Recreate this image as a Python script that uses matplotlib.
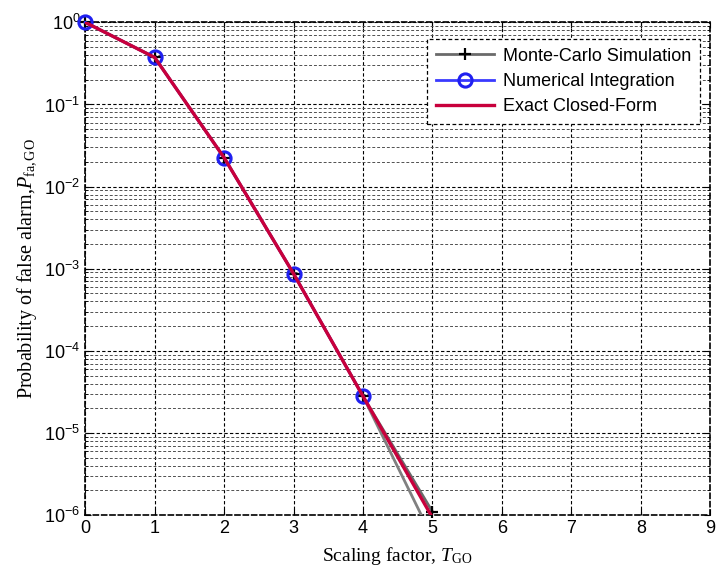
import matplotlib
matplotlib.use("Agg")
import matplotlib.pyplot as plt
from matplotlib.ticker import LogLocator, FixedLocator, NullFormatter

plt.rcParams['mathtext.fontset'] = 'custom'
plt.rcParams['mathtext.rm'] = 'Liberation Serif'
plt.rcParams['mathtext.it'] = 'Liberation Serif:italic'

# Data
T = [0, 1, 2, 3, 4, 5]
pfa_mc = [1.0, 0.374, 0.0225, 8.7e-4, 2.8e-5, 1.1e-6]
T_mc2 = [4, 5]
pfa_mc2 = [2.8e-5, 5.3e-7]
pfa_num = [1.0, 0.374, 0.0225, 8.7e-4, 2.8e-5]
T_num = [0, 1, 2, 3, 4]
pfa_exact = [1.0, 0.374, 0.0225, 8.7e-4, 2.8e-5, 9.3e-7]

xticks = [0, 1, 2, 3, 4, 5, 6, 7, 8, 9]
yexps = [0, -1, -2, -3, -4, -5, -6]

fig = plt.figure(figsize=(7.16, 5.73), dpi=100)
ax = fig.add_axes([0.119, 0.101, 0.873, 0.86])

ax.set_yscale('log')
ax.set_xlim(0, 9)
ax.set_ylim(1e-6, 1)

# lines
ax.plot(T_mc2, pfa_mc2, color='#808080', lw=2.0, zorder=3)
ax.plot(T, pfa_mc, color='#6a6a6a', lw=2.0, marker='+', ms=9, mec='k', mew=1.6,
        label='Monte-Carlo Simulation', zorder=3, clip_on=False)
ax.plot(T_num, pfa_num, color='#3a3aff', lw=2.0, marker='o', ms=9.5, mfc='none',
        mec='#2020f0', mew=2.2, label='Numerical Integration', zorder=4, clip_on=False)
ax.plot(T, pfa_exact, color='#c8003c', lw=2.4, label='Exact Closed-Form', zorder=5)

# ticks
ax.xaxis.set_major_locator(FixedLocator(xticks))
ax.set_xticklabels([str(v) for v in xticks])
ax.yaxis.set_major_locator(FixedLocator([10.0**e for e in yexps]))
ax.set_yticklabels([r'$\mathregular{10^{%d}}$' % e for e in yexps])
ax.yaxis.set_minor_locator(LogLocator(base=10, subs=range(2, 10), numticks=20))
ax.yaxis.set_minor_formatter(NullFormatter())
for lab in ax.get_xticklabels() + ax.get_yticklabels():
    lab.set_fontfamily('Liberation Sans')
    lab.set_fontsize(13)
ax.tick_params(which='both', direction='in', top=True, right=True)
ax.tick_params(which='major', length=4, width=0.8)
ax.tick_params(which='minor', length=2, width=0.6)

# grid
ax.grid(True, which='major', axis='both', color='k', lw=0.8, linestyle=(0, (3, 2)))
ax.grid(True, which='minor', axis='y', color='#505050', lw=0.7, linestyle=(0, (3, 2)))
ax.set_axisbelow(True)
for s in ax.spines.values():
    s.set_linestyle((0, (3, 2)))
    s.set_linewidth(1.2)
    s.set_color('k')

ax.set_xlabel(r'Scaling factor, $\mathit{T}_{\mathrm{GO}}$', fontfamily='Liberation Serif',
              fontsize=14, labelpad=6)
ax.set_ylabel(r'Probability of false alarm,$\mathit{P}_{\mathrm{fa,GO}}$',
              fontfamily='Liberation Serif', fontsize=14.5, labelpad=4)

leg = ax.legend(loc='upper right', bbox_to_anchor=(0.998, 0.985), fancybox=False,
                framealpha=1, edgecolor='k', handlelength=3.2,
                prop={'family': 'Liberation Sans', 'size': 13.0},
                borderpad=0.5, labelspacing=0.45, handletextpad=0.5)
leg.get_frame().set_linestyle((0, (3, 2)))
leg.get_frame().set_linewidth(0.9)
leg.set_zorder(10)

fig.savefig('out.png', dpi=100)
